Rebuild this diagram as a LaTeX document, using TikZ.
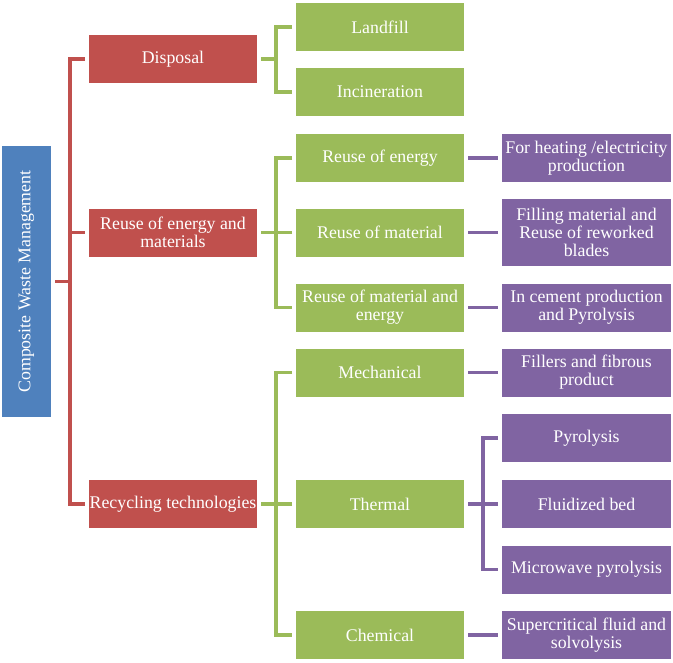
\documentclass[tikz,border=0pt]{standalone}
\usepackage{fontspec}
\setmainfont{Liberation Serif}
\usepackage{xcolor}
\usetikzlibrary{positioning}
\definecolor{cwblue}{HTML}{4F81BD}
\definecolor{cwred}{HTML}{C0504D}
\definecolor{cwgreen}{HTML}{9BBB59}
\definecolor{cwpurple}{HTML}{8064A2}

\begin{document}
\begin{tikzpicture}[x=0.03cm, y=-0.03cm,
box/.style={text=white, align=center, inner sep=0pt, outer sep=0.12cm, font=\fontsize{15.2}{15.4}\selectfont, minimum height=1.44cm},
rootbox/.style={box, fill=cwblue, minimum width=8.13cm, minimum height=1.47cm},
redbox/.style={box, fill=cwred, minimum width=5.04cm},
greenbox/.style={box, fill=cwgreen, minimum width=5.04cm},
purplebox/.style={box, fill=cwpurple, minimum width=5.07cm},
redln/.style={cwred, line width=1.05mm},
greenln/.style={cwgreen, line width=1.05mm},
purpleln/.style={cwpurple, line width=1.05mm}]

\useasboundingbox (0,0) rectangle (673,662);

\coordinate (rt) at (70,0);
\coordinate (gt) at (276,0);
\coordinate (pt) at (483,0);

\node[rootbox, rotate=90] (root) at (26.5,281.5) {Composite Waste Management};

% first level
\node[redbox] (dis) at (173,59) {Disposal};
\node[redbox] (reu) at (173,232.5) {Reuse of energy and\\materials};
\node[redbox] (rec) at (173,504) {Recycling technologies};

% second level
\node[greenbox] (lan) at (380,27) {Landfill};
\node[greenbox] (inc) at (380,92) {Incineration};
\node[greenbox] (ren) at (380,158) {Reuse of energy};
\node[greenbox] (rma) at (380,232.5) {Reuse of material};
\node[greenbox] (rme) at (380,307.5) {Reuse of material and\\energy};
\node[greenbox] (mec) at (380,372.5) {Mechanical};
\node[greenbox] (the) at (380,504) {Thermal};
\node[greenbox] (che) at (380,635) {Chemical};

% third level
\node[purplebox] (hea) at (586.5,158) {For heating /electricity\\production};
\node[purplebox, minimum height=2.01cm] (fil) at (586.5,232.5) {Filling material and\\Reuse of reworked\\blades};
\node[purplebox] (cem) at (586.5,307.5) {In cement production\\and Pyrolysis};
\node[purplebox] (fib) at (586.5,372.5) {Fillers and fibrous\\product};
\node[purplebox] (pyr) at (586.5,438) {Pyrolysis};
\node[purplebox] (flu) at (586.5,504) {Fluidized bed};
\node[purplebox] (mic) at (586.5,569.5) {Microwave pyrolysis};
\node[purplebox] (sup) at (586.5,635) {Supercritical fluid and\\solvolysis};

% red lines
\draw[redln] (root.south) -- (root.south -| rt);
\draw[redln] (dis.west) -- (dis.west -| rt) -- (rec.west -| rt) -- (rec.west);
\draw[redln] (reu.west) -- (reu.west -| rt);

% green lines
\draw[greenln] (dis.east) -- (dis.east -| gt);
\draw[greenln] (lan.west) -- (lan.west -| gt) -- (inc.west -| gt) -- (inc.west);

\draw[greenln] (reu.east) -- (reu.east -| gt);
\draw[greenln] (ren.west) -- (ren.west -| gt) -- (rme.west -| gt) -- (rme.west);
\draw[greenln] (rma.west) -- (rma.west -| gt);

\draw[greenln] (rec.east) -- (rec.east -| gt);
\draw[greenln] (mec.west) -- (mec.west -| gt) -- (che.west -| gt) -- (che.west);
\draw[greenln] (the.west) -- (the.west -| gt);

% purple lines
\draw[purpleln] (ren.east) -- (hea.west);
\draw[purpleln] (rma.east) -- (fil.west);
\draw[purpleln] (rme.east) -- (cem.west);
\draw[purpleln] (mec.east) -- (fib.west);
\draw[purpleln] (che.east) -- (sup.west);

\draw[purpleln] (the.east) -- (the.east -| pt);
\draw[purpleln] (pyr.west) -- (pyr.west -| pt) -- (mic.west -| pt) -- (mic.west);
\draw[purpleln] (flu.west) -- (flu.west -| pt);

\end{tikzpicture}
\end{document}
